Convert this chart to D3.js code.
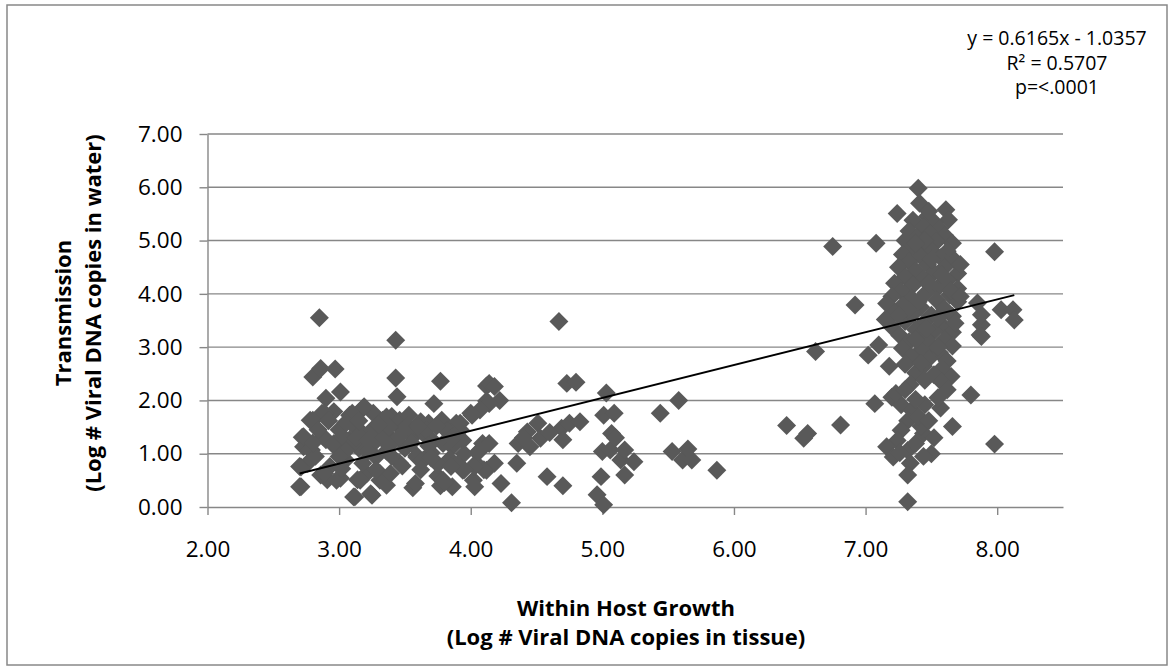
<!doctype html>
<html lang="en">
<head>
 <meta charset="utf-8">
 <title>Within host growth vs transmission</title>
 <script src="https://cdn.jsdelivr.net/npm/d3@7"></script>
 <style>
  body { margin: 0; background: #fff; }
  svg text { font-family: "Open Sans", "Noto Sans", sans-serif; fill: #000; }
  .grid line { stroke: #878787; stroke-width: 1.4; }
  .axis path, .axis line { stroke: #878787; stroke-width: 1.4; }
  .axis text { font-size: 22.5px; }
  .title { font-size: 22px; font-weight: bold; }
  .note { font-size: 19.5px; }
 </style>
</head>
<body>
<div id="chart"></div>

<script>
    // tick labels
    var xTicks = [2, 3, 4, 5, 6, 7, 8];
    var yTicks = [0, 1, 2, 3, 4, 5, 6, 7];

    // trend line (from the chart's own equation)
    var slope = 0.6165;
    var intercept = -1.0357;
    var noteLines = ["y = 0.6165x - 1.0357", "R\u00b2 = 0.5707", "p=<.0001"];

    // [within host growth, transmission] - low tissue load samples
    var lowCluster = [
        [2.85,3.55],[2.80,2.44],[2.86,2.60],[2.97,2.59],[3.01,2.16],[2.90,2.04],
        [2.78,1.63],[2.87,1.76],[2.96,1.79],[3.08,1.72],[3.18,1.85],[3.26,1.76],
        [3.33,1.63],[3.40,1.70],[2.72,1.31],[2.73,1.13],[2.79,1.07],[2.90,1.26],
        [2.97,1.13],[3.08,1.26],[3.15,1.10],[2.71,0.75],[2.76,0.82],[2.86,0.60],
        [2.91,0.51],[3.01,0.54],[3.14,0.51],[3.21,0.63],[3.31,0.63],[3.36,0.41],
        [3.12,0.19],[3.25,0.22],[2.71,0.38],[3.43,3.13],[3.43,2.42],[3.44,2.07],
        [3.77,2.36],[3.72,1.94],[3.56,0.36],[3.48,0.77],[3.59,0.96],[3.75,0.58],
        [3.77,0.40],[4.12,2.27],[4.12,1.99],[4.00,1.76],[2.80,1.63],[2.89,1.76],
        [3.10,1.76],[3.19,1.88],[3.36,1.69],[3.46,1.63],[3.53,1.72],[3.62,1.60],
        [3.68,1.57],[3.78,1.63],[3.89,1.57],[3.94,1.25],[2.73,1.32],[2.78,1.07],
        [2.88,1.32],[2.96,1.19],[3.03,1.32],[3.10,1.19],[3.18,1.38],[3.26,1.19],
        [3.33,1.32],[3.41,1.25],[3.48,1.44],[3.56,1.32],[3.64,1.38],[3.71,1.25],
        [3.79,1.19],[3.86,1.13],[3.59,0.94],[3.64,0.88],[3.46,0.82],[3.28,0.94],
        [3.18,0.82],[3.05,0.88],[2.93,0.76],[2.70,0.76],[2.70,0.38],[2.89,0.63],
        [2.98,0.50],[3.16,0.50],[3.11,0.19],[3.24,0.25],[3.31,0.50],[3.39,0.63],
        [3.58,0.44],[3.79,0.50],[3.86,0.38],[3.94,0.69],[4.02,0.50],[4.04,0.82],
        [4.12,0.69],[4.09,1.19],[3.00,1.45],[3.12,1.50],[3.25,1.45],[3.38,1.50],
        [3.52,1.52],[3.66,1.45],[3.82,1.42],[2.84,1.45],[3.22,1.05],[3.36,1.05],
        [3.50,1.10],[3.70,1.02],[3.84,0.90],[3.95,1.00],[3.05,1.05],[2.82,0.95],
        [3.40,0.95],[3.55,1.20],[3.75,0.80],[4.05,1.02],[3.90,0.80],[3.02,0.72],
        [3.28,0.70],[3.62,0.70],[3.92,1.45],[3.68,1.15],[2.92,1.62],[3.05,1.58],
        [3.15,1.62],[3.30,1.55],[3.45,1.30],[3.60,1.52],[3.74,1.52],[3.86,1.30],
        [2.80,1.20],[3.13,1.30],[3.38,1.15],[3.00,0.95],[3.22,1.25],[3.70,0.92]
    ];

    // samples between the two groups
    var midScatter = [
        [4.14,2.32],[4.18,2.26],[4.22,2.00],[4.14,1.94],[4.07,1.82],[4.01,1.72],
        [3.92,1.57],[4.14,1.19],[4.07,1.06],[4.18,0.82],[4.10,0.70],[4.03,0.76],
        [3.95,0.70],[3.85,0.76],[3.80,0.46],[4.03,0.38],[4.23,0.44],[4.31,0.08],
        [4.35,0.82],[4.36,1.19],[4.43,1.41],[4.51,1.57],[4.53,1.29],[4.45,1.13],
        [4.58,0.57],[4.67,3.48],[4.73,2.32],[4.80,2.34],[4.69,1.48],[4.70,1.26],
        [4.75,1.57],[4.83,1.60],[4.70,0.40],[5.01,1.72],[5.03,2.14],[5.09,1.76],
        [5.07,1.38],[5.00,1.04],[5.06,1.07],[5.14,0.88],[4.99,0.57],[4.96,0.23],
        [5.01,0.04],[5.17,1.07],[5.24,0.85],[5.17,0.60],[5.44,1.76],[5.58,2.00],
        [5.53,1.04],[5.61,0.88],[5.65,1.09],[5.68,0.88],[5.87,0.69],[4.40,1.30],
        [4.60,1.40],[5.10,1.30],[6.40,1.53],[6.56,1.38],[6.53,1.29],[6.62,2.92],
        [6.75,4.89],[6.81,1.54],[6.92,3.79]
    ];

    // high tissue load samples
    var highCluster = [
        [7.40,5.98],[7.41,5.70],[7.24,5.51],[7.61,5.58],[7.63,5.39],[7.47,5.45],
        [7.52,5.35],[7.36,5.38],[7.44,5.25],[7.56,5.22],[7.33,5.18],[7.49,5.12],
        [7.60,5.10],[7.39,5.05],[7.30,5.00],[7.54,4.98],[7.66,4.95],[7.44,4.92],
        [7.35,4.85],[7.50,4.82],[7.62,4.80],[7.28,4.74],[7.42,4.70],[7.57,4.68],
        [7.68,4.62],[7.33,4.60],[7.47,4.55],[7.25,4.50],[7.60,4.50],[7.38,4.44],
        [7.52,4.40],[7.70,4.38],[7.30,4.32],[7.44,4.28],[7.62,4.25],[7.22,4.20],
        [7.36,4.16],[7.55,4.12],[7.70,4.10],[7.27,4.05],[7.46,4.02],[7.64,3.98],
        [7.20,3.95],[7.35,3.92],[7.54,3.88],[7.70,3.85],[7.16,3.82],[7.28,3.78],
        [7.42,3.75],[7.60,3.72],[7.22,3.65],[7.36,3.62],[7.50,3.60],[7.66,3.58],
        [7.15,3.52],[7.30,3.48],[7.44,3.45],[7.58,3.42],[7.20,3.38],[7.38,3.33],
        [7.52,3.30],[7.66,3.28],[7.26,3.22],[7.45,3.18],[7.60,3.15],[7.33,3.10],
        [7.50,3.05],[7.66,3.02],[7.28,2.98],[7.42,2.94],[7.56,2.90],[7.35,2.82],
        [7.48,2.78],[7.62,2.74],[7.30,2.68],[7.44,2.64],[7.58,2.60],[7.38,2.52],
        [7.52,2.48],[7.65,2.45],[7.45,2.38],[7.58,2.34],[7.34,2.30],[7.48,5.55],
        [7.45,5.00],[7.38,4.95],[7.58,4.35],[7.48,4.20],[7.40,3.85],[7.32,3.70],
        [7.55,3.55],[7.46,3.35],[7.38,3.15],[7.55,3.00],[7.42,2.70],[7.50,4.65],
        [7.65,4.05],[7.25,3.60],[7.72,4.55],[7.68,3.45],[7.72,3.95],
        [7.08,4.95],[7.02,2.85],[7.10,3.04],[7.18,2.64],[7.07,1.94],[7.98,4.79],
        [7.98,1.18],[7.80,2.10],[7.87,3.23],[7.88,3.42],[7.88,3.61],[7.85,3.83],
        [8.03,3.70],[8.12,3.70],[8.13,3.51],[7.88,3.20],[7.20,2.06],[7.27,1.92],
        [7.35,1.82],[7.45,1.92],[7.57,1.86],[7.66,1.51],[7.32,1.62],[7.27,1.44],
        [7.24,1.25],[7.16,1.13],[7.21,0.94],[7.32,1.06],[7.38,1.19],[7.44,1.38],
        [7.50,1.00],[7.34,0.82],[7.32,0.60],[7.32,0.10],[7.23,2.13],[7.42,1.52],
        [7.52,1.30],[7.40,1.70],[7.55,2.05],[7.62,2.20],[7.30,2.20],[7.48,1.62],
        [7.26,1.02],[7.44,0.95],[7.38,2.02]
    ];

    var W = 1171, H = 670;
    var plotL = 207.5, plotR = 1063, plotT = 134, plotB = 507;

    var svg = d3.select("#chart").append("svg")
        .attr("width", W)
        .attr("height", H);

    // outer chart border
    svg.append("rect")
        .attr("x", 7).attr("y", 5)
        .attr("width", 1160).attr("height", 660)
        .attr("fill", "none")
        .attr("stroke", "#888")
        .attr("stroke-width", 1.5);

    var x = d3.scaleLinear().domain([2, 8.5]).range([plotL, plotR]);
    var y = d3.scaleLinear().domain([0, 7]).range([plotB, plotT]);

    // horizontal gridlines
    svg.append("g").attr("class", "grid")
        .selectAll("line").data(yTicks.slice(1)).enter().append("line")
        .attr("x1", plotL).attr("x2", plotR)
        .attr("y1", function (d) { return y(d); })
        .attr("y2", function (d) { return y(d); });

    // axes
    svg.append("g").attr("class", "axis")
        .attr("transform", "translate(" + plotL + ",0)")
        .call(d3.axisLeft(y).tickValues(yTicks).tickFormat(d3.format(".2f"))
            .tickSize(8).tickSizeOuter(0).tickPadding(17));
    svg.append("g").attr("class", "axis")
        .attr("transform", "translate(0," + plotB + ")")
        .call(d3.axisBottom(x).tickValues(xTicks).tickFormat(d3.format(".2f"))
            .tickSize(8).tickSizeOuter(0).tickPadding(26));
    svg.selectAll(".axis text").attr("fill", "#000");

    // points
    var allPoints = lowCluster.concat(midScatter, highCluster);
    var diamond = d3.symbol().type(d3.symbolSquare).size(180);
    svg.append("g").selectAll("path").data(allPoints).enter().append("path")
        .attr("d", diamond)
        .attr("fill", "#595959")
        .attr("transform", function (d) {
            return "translate(" + x(d[0]) + "," + y(d[1]) + ") rotate(45)";
        });

    // linear trend line
    var xr = d3.extent(allPoints, function (d) { return d[0]; });
    svg.append("line")
        .attr("x1", x(xr[0])).attr("y1", y(slope * xr[0] + intercept))
        .attr("x2", x(xr[1])).attr("y2", y(slope * xr[1] + intercept))
        .attr("stroke", "#000")
        .attr("stroke-width", 2);

    // equation box
    svg.append("g").selectAll("text").data(noteLines).enter().append("text")
        .attr("class", "note")
        .attr("text-anchor", "middle")
        .attr("x", 1057)
        .attr("y", function (d, i) { return 45 + i * 24.5; })
        .text(function (d) { return d; });

    // axis titles
    var xt = svg.append("text").attr("class", "title").attr("text-anchor", "middle");
    xt.append("tspan").attr("x", 626).attr("y", 616).text("Within Host Growth");
    xt.append("tspan").attr("x", 626).attr("y", 645).text("(Log # Viral DNA copies in tissue)");

    var yt = svg.append("text").attr("class", "title").attr("text-anchor", "middle")
        .attr("transform", "rotate(-90)");
    yt.append("tspan").attr("x", -313).attr("y", 71).text("Transmission");
    yt.append("tspan").attr("x", -313).attr("y", 101).text("(Log # Viral DNA copies in water)");
</script>
</body>
</html>
